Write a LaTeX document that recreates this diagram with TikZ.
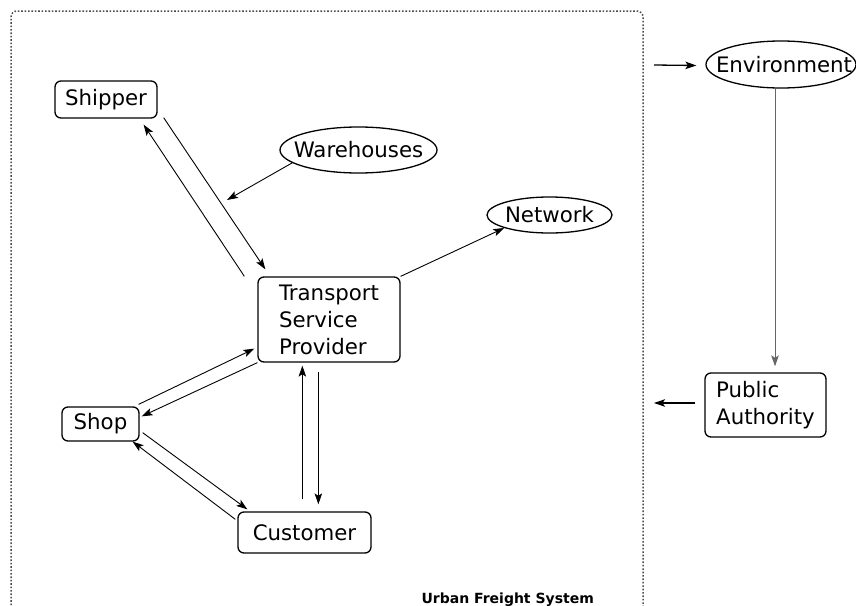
\documentclass[tikz,border=0pt]{standalone}
\usepackage{fontspec}
\setmainfont{DejaVu Sans}
\usetikzlibrary{arrows.meta,calc,shapes.geometric}
\begin{document}
\begin{tikzpicture}[x=1pt,y=-1pt,
  font=\fontsize{21.3}{27}\selectfont,
  box/.style={draw,line width=1.3pt,rounded corners=6pt,inner sep=0pt,align=center},
  oval/.style={draw,line width=1.3pt,ellipse,inner sep=0pt},
  conn/.style={line width=0.9pt,-{Stealth[length=11pt,width=7.5pt,inset=2.5pt]}},
  frame/.style={draw=black!70,line width=1.5pt,dash pattern=on 1.6pt off 1.8pt,rounded corners=6pt}]
\useasboundingbox (0,0) rectangle (856,605);
\fill[white] (0,0) rectangle (856,605);
% frame
\draw[frame] (11,612) |- (643,11) -- (643,612);
% nodes
\node[box,minimum width=102pt,minimum height=37pt] (shipper) at (106,99.5) {Shipper};
\node[oval,minimum width=157pt,minimum height=46pt] (wh) at (358.5,150) {};
\node (whtext) at (wh.center) {Warehouses};
\node[oval,minimum width=125pt,minimum height=36pt] (net) at (549.5,215) {};
\node (nettext) at (net.center) {Network};
\node[oval,minimum width=150pt,minimum height=47pt] (env) at (781,64.5) {};
\node (envtext) at ($(env.center)+(3,0)$) {Environment};
\node[box,minimum width=142pt,minimum height=85pt,align=left] (tsp) at (329,319.5) {Transport\\Service\\Provider};
\node[box,minimum width=77pt,minimum height=34pt] (shop) at (100.5,424) {Shop};
\node[box,minimum width=133pt,minimum height=41pt] (cust) at (304.5,532.5) {Customer};
\node[box,minimum width=121pt,minimum height=64pt,align=left] (pa) at (765.5,405) {Public\\Authority};
\node[anchor=base west,font=\fontsize{14}{16}\selectfont\bfseries] (ufs) at (418,603) {Urban Freight System};
% free ends
\coordinate (whend) at (227,200);
\coordinate (inenv) at (654,65);
\coordinate (outpa) at (654,403);
% connectors
\draw[conn] ($(tsp.north west)+(-13,0)$) -- ($(shipper.south east)+(-14,6)$);
\draw[conn] ($(shipper.south east)+(6,-1)$) -- ($(tsp.north west)+(8,-7)$);
\draw[conn] (wh.191) -- (whend);
\draw[conn] (tsp.north east) -- (net.196);
\draw[conn] ($(shop.north east)+(-1,-2)$) -- ($(tsp.south west)+(-3,-14)$);
\draw[conn] (tsp.south west) -- ($(shop.north east)+(2,10)$);
\draw[conn] ($(shop.south east)+(3,-9)$) -- ($(cust.north west)+(10,-2)$);
\draw[conn] ($(cust.north west)+(-2,8)$) -- ($(shop.south east)+(-7,0)$);
\draw[conn] ($(cust.north west)+(65,-12)$) -- ($(tsp.south west)+(45,3)$);
\draw[conn] ($(tsp.south west)+(61,9)$) -- ($(cust.north west)+(81,-7)$);
\draw[conn,draw=black!60] ($(env.south)+(-6,0)$) -- ($(pa.north)+(9.5,-6)$);
\draw[conn,line width=1.3pt] (inenv) -- ($(env.west)+(-9,1)$);
\draw[conn,line width=1.1pt] ($(pa.west)+(-9,-2)$) -- (outpa);
\end{tikzpicture}
\end{document}
